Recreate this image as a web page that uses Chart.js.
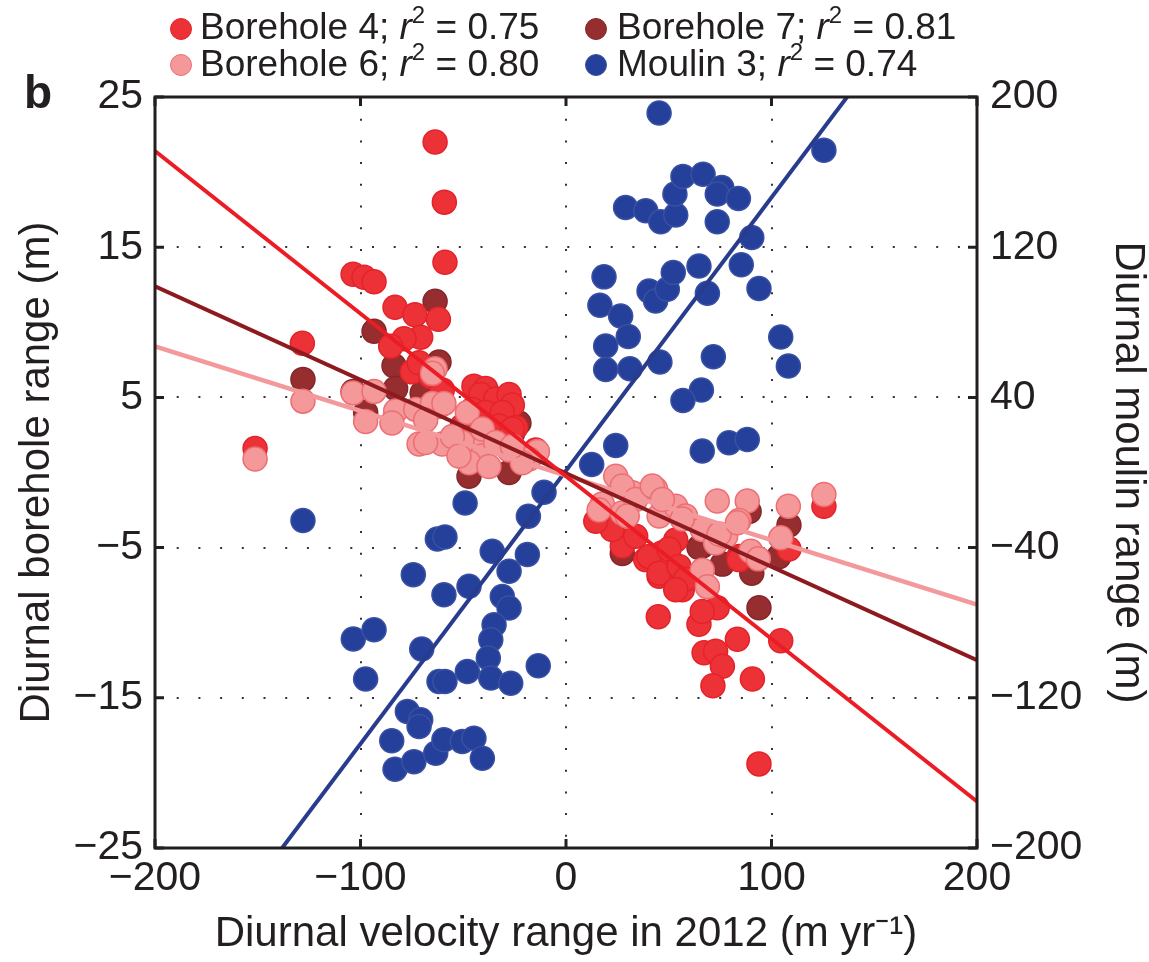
<!DOCTYPE html>
<html><head><meta charset="utf-8">
<script src="https://cdn.jsdelivr.net/npm/chart.js@4.4.1/dist/chart.umd.min.js"></script>
<style>
html,body{margin:0;padding:0;background:#fff;}
#wrap{position:relative;width:1149px;height:962px;font-family:"Liberation Sans",Arial,Helvetica,sans-serif;color:#231F20;overflow:hidden;}
#c{position:absolute;left:0;top:0;}
.lg{position:absolute;font-size:37px;line-height:37px;white-space:nowrap;}
.lg sup{font-size:24px;line-height:0;position:relative;top:-3px;}
.mk{position:absolute;width:20px;height:20px;border-radius:50%;border:1.5px solid;}
#panel{position:absolute;left:24px;top:69px;font-size:46px;line-height:46px;font-weight:bold;}
</style></head>
<body>
<div id="wrap">
<canvas id="c" width="1149" height="962"></canvas>
<span class="mk" style="left:169.5px;top:17.5px;background:#ED3237;border-color:#E4222A;"></span>
<span class="lg" style="left:200px;top:8px;">Borehole 4; <i>r</i><sup>2</sup> = 0.75</span>
<span class="mk" style="left:584.5px;top:17.5px;background:#962E30;border-color:#85262A;"></span>
<span class="lg" style="left:617px;top:8px;">Borehole 7; <i>r</i><sup>2</sup> = 0.81</span>
<span class="mk" style="left:169.5px;top:53.5px;background:#F4989A;border-color:#EC6E72;"></span>
<span class="lg" style="left:200px;top:45px;">Borehole 6; <i>r</i><sup>2</sup> = 0.80</span>
<span class="mk" style="left:584.5px;top:53.5px;background:#24409A;border-color:#3A50A2;"></span>
<span class="lg" style="left:617px;top:45px;">Moulin 3; <i>r</i><sup>2</sup> = 0.74</span>
<div id="panel">b</div>
</div>
<script>
// ---- tick values ----
const xTicks = [-200, -100, 0, 100, 200];
const yLeftTicks = [-25, -15, -5, 5, 15, 25];
const yRightTicks = [-200, -120, -40, 40, 120, 200];

// ---- Borehole 4 (x: velocity range, y: borehole range) ----
const bh4 = [
  [-63.7,22.0],[-59.2,18.0],[-58.9,14.0],[-103.6,13.2],[-98.3,13.0],[-93.4,12.7],[-83.2,11.0],[-73.5,10.5],
  [-62.1,10.2],[-70.7,9.0],[-78.8,8.9],[-85.3,8.4],[-128.3,8.6],[-74.8,6.7],[-71.5,7.3],[-151.3,1.6],
  [-65.8,6.4],[-60.2,5.5],[-44.8,5.75],[-39.1,5.6],[-41.5,5.2],[-34.2,4.9],[-27.7,5.2],[-26.1,4.5],
  [-45.6,4.2],[-39.1,4.0],[-31.0,4.0],[-24.5,3.0],[-50.5,3.1],[-32.6,3.1],[-14.7,1.5],[-26.1,2.9],
  [125.5,-2.25],[108.5,-5.1],[44.9,-9.6],[64.7,-10.1],[73.6,-9.0],[66.3,-9.25],[83.4,-11.1],[104.5,-11.2],
  [67.2,-12.0],[72.8,-11.9],[76.1,-12.9],[71.5,-14.2],[90.7,-13.75],[93.9,-19.4],[84.2,-5.6],[56.6,-7.8],
  [45.3,-6.9],[51.7,-7.1],[38.8,-5.8],[27.4,-4.9],[16.1,-3.1],[53.4,-4.5],[46.9,-5.35],[33.9,-4.25],
  [22.5,-3.8],[14.5,-3.25],[40.4,-5.6],[50.1,-5.1],[45.3,-6.7],[55.0,-6.25],[58.2,-7.1],[53.4,-7.8],[84.2,-5.8]
];
// ---- Borehole 7 ----
const bh7 = [
  [-63.7,11.4],[-93.4,9.4],[-83.7,7.1],[-61.8,7.35],[-128.0,6.2],[-103.6,5.4],[-82.9,5.6],[-97.5,4.0],
  [-47.2,-0.25],[-27.7,0.0],[-22.9,3.3],[-70.0,5.3],[-26.0,2.6],
  [93.9,-9.0],[108.5,-3.5],[76.1,-6.1],[90.4,-6.7],[103.6,-5.6],[27.4,-5.4],[66.3,-4.9],[89.1,-2.6],[64.7,-5.0]
];
// ---- Borehole 6 ----
const bh6 = [
  [-128.0,4.75],[-151.3,0.9],[-103.6,5.3],[-93.4,5.4],[-97.5,3.4],[-63.7,6.9],[-82.9,4.1],[-84.7,3.3],
  [-73.1,4.2],[-61.8,4.4],[-48.0,4.0],[-71.5,1.9],[-60.2,1.9],[-50.5,2.0],[-39.1,2.0],[-27.7,1.5],
  [-13.9,1.4],[-40.9,1.1],[-18.0,0.9],[-65.0,6.6],[-65.0,4.6],[-59.4,4.6],[-68.3,3.5],[-55.3,2.4],
  [-68.3,2.0],[-40.7,2.9],[-47.2,0.65],[-37.5,0.4],[-21.3,0.65],[-52.1,1.1],[-34.2,2.0],[-26.1,1.75],
  [125.5,-1.47],[108.2,-2.25],[88.2,-1.9],[73.6,-1.9],[84.2,-3.2],[104.5,-4.35],[89.9,-5.25],[93.6,-5.75],
  [66.3,-6.5],[68.8,-7.6],[43.6,-1.1],[24.2,-0.25],[17.7,-2.1],[27.4,-2.7],[32.3,-1.35],[45.3,-2.9],
  [53.4,-2.25],[58.2,-2.9],[66.3,-3.8],[72.8,-4.7],[77.7,-4.25],[27.4,-0.9],[33.9,-1.8],[42.0,-0.9],
  [46.9,-1.8],[29.8,-2.9],[56.6,-3.1],[74.5,-4.1],[83.4,-3.35],[16.1,-2.5]
];
// ---- Moulin 3 (x: velocity range, y: moulin range, right axis) ----
const m3 = [
  [45.3,191.5],[125.5,171.7],[29.0,141.2],[38.8,139.4],[46.1,133.5],[53.4,137.1],[53.0,148.3],[56.9,157.7],
  [66.7,158.9],[75.8,151.8],[73.6,148.3],[83.9,146.0],[73.6,133.5],[90.4,125.2],[18.5,104.2],[16.5,89.1],
  [26.6,83.4],[30.3,72.4],[19.3,67.4],[19.3,54.9],[31.1,55.3],[40.4,96.7],[43.6,91.4],[49.3,97.6],
  [52.2,106.5],[64.7,110.0],[68.8,95.5],[85.3,110.6],[93.9,98.0],[45.7,58.8],[71.7,61.7],[104.5,72.2],
  [108.2,56.7],[65.9,43.9],[56.9,38.4],[24.2,14.4],[12.5,4.3],[66.3,11.4],[79.3,15.8],[88.2,17.6],
  [-10.7,-10.5],[-18.3,-23.3],[-49.1,-16.2],[-128.0,-25.6],[-62.6,-35.4],[-58.9,-34.3],[-35.9,-42.0],[-18.8,-43.7],
  [-27.7,-52.6],[-74.3,-54.4],[-59.4,-65.1],[-47.2,-60.6],[-31.0,-66.0],[-27.7,-72.2],[-35.0,-81.1],[-36.6,-89.1],
  [-37.8,-98.8],[-36.6,-109.5],[-26.9,-112.2],[-13.5,-102.9],[-48.0,-106.0],[-61.8,-111.3],[-58.9,-111.3],[-97.5,-110.0],
  [-103.5,-88.7],[-93.4,-83.7],[-70.2,-94.0],[-77.2,-127.3],[-70.7,-131.7],[-71.5,-135.3],[-84.8,-142.9],[-83.2,-158.0],
  [-74.0,-154.0],[-63.4,-149.5],[-59.4,-142.4],[-50.5,-143.3],[-44.8,-141.5],[-40.7,-152.2]
];
// ---- regression lines (end points read at x = -200 and 200) ----
const fitX = [-200, 200];
const fitBH4 = [21.4, -21.9];
const fitBH7 = [12.4, -12.5];
const fitBH6 = [8.4, -8.8];
const fitM3 = [-290, 292];

const INK = '#231F20';
const FONT = '"Liberation Sans", Arial, Helvetica, sans-serif';
const pts = arr => arr.map(p => ({x: p[0], y: p[1]}));
const line = ys => fitX.map((x, i) => ({x: x, y: ys[i]}));
const fmt = v => (v < 0 ? '\u2212' + Math.abs(v) : String(v));
const gridColor = (lo, hi) => c => (c.tick && (c.tick.value === lo || c.tick.value === hi)) ? 'rgba(0,0,0,0)' : '#333';

const frame = {
  id: 'frame',
  afterDatasetsDraw(chart) {
    const {ctx, chartArea: a, scales} = chart;
    ctx.save();
    ctx.strokeStyle = INK;
    ctx.lineWidth = 3;
    ctx.beginPath();
    xTicks.forEach(v => {
      const px = scales.x.getPixelForValue(v);
      ctx.moveTo(px, a.bottom); ctx.lineTo(px, a.bottom - 9);
      ctx.moveTo(px, a.top); ctx.lineTo(px, a.top + 9);
    });
    yLeftTicks.forEach(v => {
      const py = scales.y.getPixelForValue(v);
      ctx.moveTo(a.left, py); ctx.lineTo(a.left + 9, py);
    });
    yRightTicks.forEach(v => {
      const py = scales.y2.getPixelForValue(v);
      ctx.moveTo(a.right, py); ctx.lineTo(a.right - 9, py);
    });
    ctx.stroke();
    ctx.strokeRect(a.left, a.top, a.right - a.left, a.bottom - a.top);
    ctx.restore();
  }
};

new Chart(document.getElementById('c'), {
  type: 'scatter',
  data: {
    datasets: [
      {type:'line', label:'fit BH4', data: line(fitBH4), borderColor:'#EC1C24', borderWidth:4, pointRadius:0, order:1, yAxisID:'y'},
      {type:'line', label:'fit BH7', data: line(fitBH7), borderColor:'#8C1A1E', borderWidth:4, pointRadius:0, order:1, yAxisID:'y'},
      {type:'line', label:'fit BH6', data: line(fitBH6), borderColor:'#F3999B', borderWidth:4.5, pointRadius:0, order:1, yAxisID:'y'},
      {type:'line', label:'fit M3', data: line(fitM3), borderColor:'#283C8E', borderWidth:4, pointRadius:0, order:1, yAxisID:'y2'},
      {label:'Moulin 3', data: pts(m3), backgroundColor:'#24409A', borderColor:'#3A50A2', borderWidth:1.5, pointRadius:12, order:2, yAxisID:'y2'},
      {label:'Borehole 6', data: pts(bh6), backgroundColor:'#F4989A', borderColor:'#EC6E72', borderWidth:1.5, pointRadius:12, order:3, yAxisID:'y'},
      {label:'Borehole 4', data: pts(bh4), backgroundColor:'#ED3237', borderColor:'#E4222A', borderWidth:1.5, pointRadius:12, order:4, yAxisID:'y'},
      {label:'Borehole 7', data: pts(bh7), backgroundColor:'#962E30', borderColor:'#85262A', borderWidth:1.5, pointRadius:12, order:5, yAxisID:'y'}
    ]
  },
  options: {
    responsive: false,
    animation: false,
    devicePixelRatio: 1,
    layout: {padding: {top: 97, left: 0, right: 0, bottom: 0}},
    plugins: {legend: {display: false}, tooltip: {enabled: false}},
    scales: {
      x: {
        type: 'linear', min: -200, max: 200, position: 'bottom',
        afterBuildTicks: s => { s.ticks = xTicks.map(v => ({value: v})); },
        afterFit: s => { s.height = 114; },
        ticks: {callback: fmt, color: INK, font: {family: FONT, size: 41}, padding: 6, autoSkip: false, maxRotation: 0},
        grid: {color: gridColor(-200, 200), lineWidth: 2, drawTicks: false},
        border: {display: false, dash: [2, 19.7]},
        title: {display: true, text: 'Diurnal velocity range in 2012 (m yr\u207B\u00B9)', color: INK, font: {family: FONT, size: 42}, padding: {top: 0, bottom: 2}}
      },
      y: {
        type: 'linear', min: -25, max: 25, position: 'left',
        afterBuildTicks: s => { s.ticks = yLeftTicks.map(v => ({value: v})); },
        afterFit: s => { s.width = 155; },
        ticks: {callback: fmt, color: INK, font: {family: FONT, size: 41}, padding: 12, autoSkip: false},
        grid: {color: gridColor(-25, 25), lineWidth: 2, drawTicks: false},
        border: {display: false, dash: [2, 19.7]},
        title: {display: true, text: 'Diurnal borehole range (m)', color: INK, font: {family: FONT, size: 42}, padding: {top: 12, bottom: 0}}
      },
      y2: {
        type: 'linear', min: -200, max: 200, position: 'right',
        afterBuildTicks: s => { s.ticks = yRightTicks.map(v => ({value: v})); },
        afterFit: s => { s.width = 172; },
        ticks: {callback: fmt, color: INK, font: {family: FONT, size: 41}, padding: 13, autoSkip: false},
        grid: {display: false, drawOnChartArea: false, drawTicks: false},
        border: {display: false},
        title: {display: true, text: 'Diurnal moulin range (m)', color: INK, font: {family: FONT, size: 42}, padding: {top: -4, bottom: 0}}
      }
    }
  },
  plugins: [frame]
});
</script>
</body></html>
